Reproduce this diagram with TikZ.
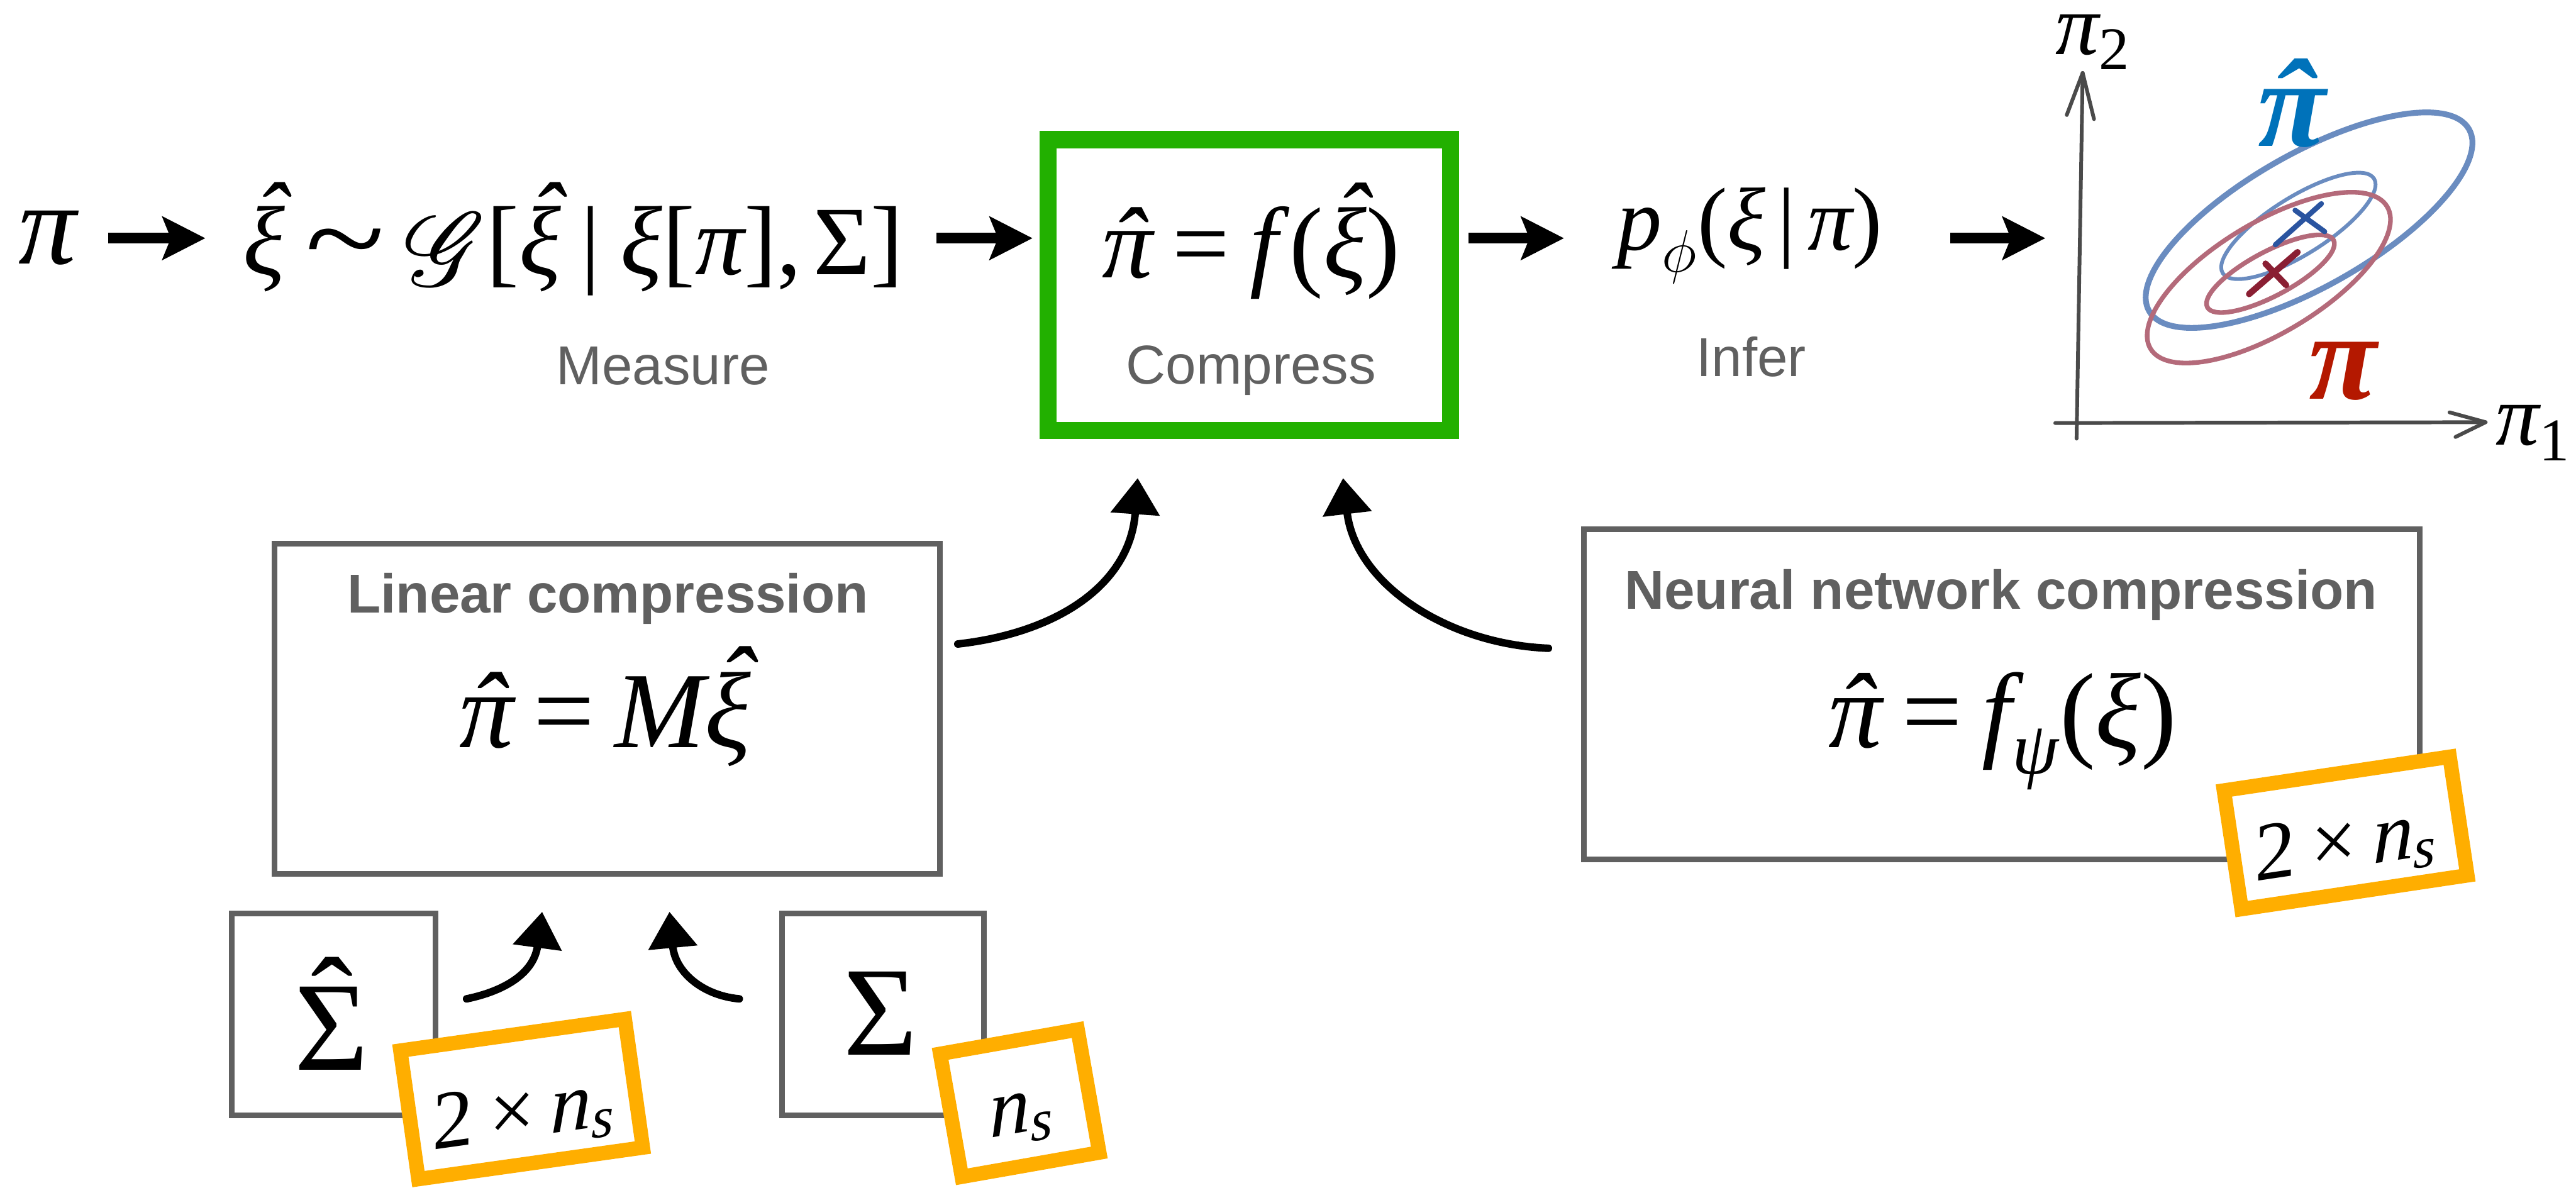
\documentclass[tikz,border=0pt]{standalone}
\usepackage{amsmath}
\usepackage{graphicx}
\usepackage{mathrsfs}
\usepackage[no-math]{fontspec}
\setsansfont{Liberation Sans}
\newfontfamily\timesf{Liberation Serif}
\usetikzlibrary{arrows.meta}
\newcommand{\ti}[1]{\text{\timesf\itshape #1}}
\newcommand{\tr}[1]{\text{\timesf #1}}
\newcommand{\hi}[1]{\text{\timesf\itshape\accent"02C6 #1}}
\newcommand{\teq}{\mathrel{\tr{=}}}
\newcommand{\tsim}{\mathrel{\raisebox{-0.05em}{\scalebox{1.5}[1.25]{\timesf\textasciitilde}}}}
\definecolor{boxgray}{HTML}{606060}
\definecolor{labgray}{HTML}{606060}
\definecolor{cgreen}{HTML}{22B000}
\definecolor{corange}{HTML}{FFAE00}
\definecolor{ellblue}{HTML}{6A8CC0}
\definecolor{ellred}{HTML}{B46A7A}
\definecolor{piblue}{HTML}{0072BA}
\definecolor{pired}{HTML}{B41800}
\definecolor{xblue}{HTML}{2A54A0}
\definecolor{xred}{HTML}{8A1F33}
\definecolor{axisgray}{HTML}{4A4A4A}
\newcommand{\fsz}[1]{\fontsize{#1}{#1}\selectfont}
\tikzset{
  lab/.style={anchor=base, inner sep=0pt, text=labgray, font=\sffamily\fsz{19}},
  blab/.style={anchor=base, inner sep=0pt, text=labgray, font=\sffamily\bfseries\fsz{19}},
  graybox/.style={draw=boxgray, line width=2pt, inner sep=0pt},
  greenbox/.style={draw=cgreen, line width=6pt, inner sep=0pt},
  obox/.style={draw=corange, fill=white, line width=5pt, inner sep=0pt},
  otext/.style={inner sep=0pt, font=\fsz{28.5}},
  bigarrow/.style={line width=3.7pt, -{Stealth[length=0.52cm, width=0.52cm, inset=0.1cm]}},
  carrow/.style={line width=2.6pt, line cap=round, -{Triangle[length=0.44cm, width=0.58cm]}},
  axisline/.style={axisgray, line width=1.3pt, line cap=round, line join=round},
}
\begin{document}
\begin{tikzpicture}[x=0.02cm, y=0.02cm]
\useasboundingbox (0,0) rectangle (1568,-723);

% ---------- top row ----------
\node[anchor=base, inner sep=0pt, font=\timesf\itshape\fsz{40}] (pi0) at (29,-160.7) {π};
\node[anchor=base, inner sep=0pt, font=\fsz{34}] (meas) at (349,-167)
  {$\hi{ξ} \tsim \raisebox{-0.12em}{\scalebox{1.45}{$\mathscr{G}$}}\mathopen{\tr{[}}\hi{ξ}\;\tr{|}\;\ti{ξ}\tr{[}\ti{π}\tr{]}\mathpunct{\tr{,}}\tr{Σ}\mathclose{\tr{]}}$};
\node[lab] (measlab) at (403.6,-234) {Measure};

\node[greenbox, minimum width=4.9cm, minimum height=3.54cm] (cbox) at (760.5,-173.5) {};
\node[anchor=base, inner sep=0pt, font=\fsz{35}] (comp) at (761.6,-168.9) {$\hi{π} \teq \ti{f}\,\tr{(}\hi{ξ}\tr{)}$};
\node[lab] (complab) at (761.5,-233.6) {Compress};

\node[anchor=base, inner sep=0pt, font=\fsz{31}] (infer) at (1065,-152) {$\ti{p}_{\phi}\tr{(}\ti{ξ}\,\tr{|}\,\ti{π}\tr{)}$};
\node[lab] (inferlab) at (1066,-229) {Infer};

\coordinate (a1s) at (66,-145);  \coordinate (a1e) at (125,-145);
\coordinate (a2s) at (570,-145); \coordinate (a2e) at (628.5,-145);
\coordinate (a3s) at (894,-145); \coordinate (a3e) at (952,-145);
\coordinate (a4s) at (1187,-145); \coordinate (a4e) at (1245,-145);
\draw[bigarrow] (a1s) -- (a1e);
\draw[bigarrow] (a2s) -- (a2e);
\draw[bigarrow] (a3s) -- (a3e);
\draw[bigarrow] (a4s) -- (a4e);

% ---------- plot ----------
\draw[ellblue, line width=2pt, rotate around={29.6:(1405.5,-134)}] (1405.5,-134) ellipse [x radius=112, y radius=40.5];
\draw[ellblue, line width=1.3pt, rotate around={32:(1399,-137.5)}] (1399,-137.5) ellipse [x radius=54.3, y radius=17.5];
\draw[ellred, line width=1.6pt, rotate around={31:(1381,-169)}] (1381,-169) ellipse [x radius=84, y radius=33.6];
\draw[ellred, line width=1.6pt, rotate around={28:(1382,-166.6)}] (1382,-166.6) ellipse [x radius=43.5, y radius=13.5];
\draw[xblue, line width=1.8pt, line cap=round] (1385,-149) -- (1413,-124);
\draw[xblue, line width=1.8pt, line cap=round] (1397,-128) -- (1415,-141);
\draw[xred, line width=2.2pt, line cap=round] (1369,-179) -- (1398.5,-153.5);
\draw[xred, line width=2.2pt, line cap=round] (1379,-160.5) -- (1391.5,-173.5);

\coordinate (yb) at (1264,-267); \coordinate (yt) at (1267.7,-44.4);
\coordinate (yh1) at (1258,-70); \coordinate (yh2) at (1274.6,-72.5);
\coordinate (xl) at (1251,-257.5); \coordinate (xr) at (1513,-257);
\coordinate (xh1) at (1491,-251); \coordinate (xh2) at (1494.6,-266);
\draw[axisline] (yb) -- (yt);
\draw[axisline] (yh1) -- (yt) -- (yh2);
\draw[axisline] (xl) -- (xr);
\draw[axisline] (xh1) -- (xr) -- (xh2);

\node[anchor=base west, inner sep=0pt, font=\fsz{30}] (p2) at (1251,-33) {$\ti{π}_{\tr{2}}$};
\node[anchor=base west, inner sep=0pt, font=\fsz{30}] (p1) at (1519,-271) {$\ti{π}_{\tr{1}}$};
\node[anchor=base, inner sep=0pt, text=piblue, font=\timesf\bfseries\itshape\fsz{43}] (pihat) at (1395,-89) {\accent"02C6 π};
\node[anchor=base, inner sep=2pt, fill=white, text=pired, font=\timesf\bfseries\itshape\fsz{43}] (pired) at (1426,-242.9) {π};

% ---------- lower boxes ----------
\node[graybox, minimum width=8.1cm, minimum height=4.02cm] (lin) at (369.5,-431.5) {};
\node[blab] (lintitle) at (370,-373) {Linear compression};
\node[anchor=base, inner sep=0pt, font=\fsz{37.5}] (linf) at (368.5,-455) {$\hi{π} \teq \ti{M}\hi{ξ}$};

\node[graybox, minimum width=10.18cm, minimum height=4.02cm] (nn) at (1218.5,-422.5) {};
\node[blab] (nntitle) at (1218,-370.6) {Neural network compression};
\node[anchor=base, inner sep=0pt, font=\fsz{37}] (nnf) at (1219,-455) {$\hi{π} \teq \ti{f}_{\ti{ψ}}\tr{(}\ti{ξ}\tr{)}$};

\node[graybox, minimum width=2.48cm, minimum height=2.46cm] (shbox) at (203,-617.5) {};
\node[anchor=base, inner sep=0pt, font=\timesf\fsz{44}] (sh) at (202,-651.5) {\accent"02C6 Σ};
\node[graybox, minimum width=2.46cm, minimum height=2.46cm] (sbox) at (537.5,-617.5) {};
\node[anchor=base, inner sep=0pt, font=\timesf\fsz{44}] (s) at (536,-642) {Σ};

\node[obox, rotate=8, minimum width=2.76cm, minimum height=1.58cm] (o1) at (317.5,-669) {};
\node[otext, rotate=8, xslant=0.15] (o1t) at (319,-679) {$\tr{2}\mathbin{\tr{×}}\ti{n}_{\ti{s}}$};
\node[obox, rotate=10, minimum width=1.7cm, minimum height=1.52cm] (o2) at (620.7,-671.5) {};
\node[otext, rotate=10, xslant=0.15] (o2t) at (622,-681) {$\ti{n}_{\ti{s}}$};
\node[obox, rotate=8.5, minimum width=2.78cm, minimum height=1.46cm] (o3) at (1427.75,-507) {};
\node[otext, rotate=8.5, xslant=0.15] (o3t) at (1428,-515) {$\tr{2}\mathbin{\tr{×}}\ti{n}_{\ti{s}}$};

% ---------- curved arrows ----------
\coordinate (c1s) at (583,-392);   \coordinate (c1e) at (692.5,-291);
\coordinate (c2s) at (942.5,-394.6); \coordinate (c2e) at (817.5,-291);
\coordinate (c3s) at (284,-608);   \coordinate (c3e) at (330,-555);
\coordinate (c4s) at (450,-608);   \coordinate (c4e) at (407.5,-555);
\draw[carrow] (c1s) .. controls (645,-385) and (688,-355) .. (c1e);
\draw[carrow] (c2s) .. controls (880,-392) and (825,-355) .. (c2e);
\draw[carrow] (c3s) .. controls (308,-603) and (325,-592) .. (c3e);
\draw[carrow] (c4s) .. controls (428,-606) and (411,-592) .. (c4e);
\end{tikzpicture}
\end{document}
